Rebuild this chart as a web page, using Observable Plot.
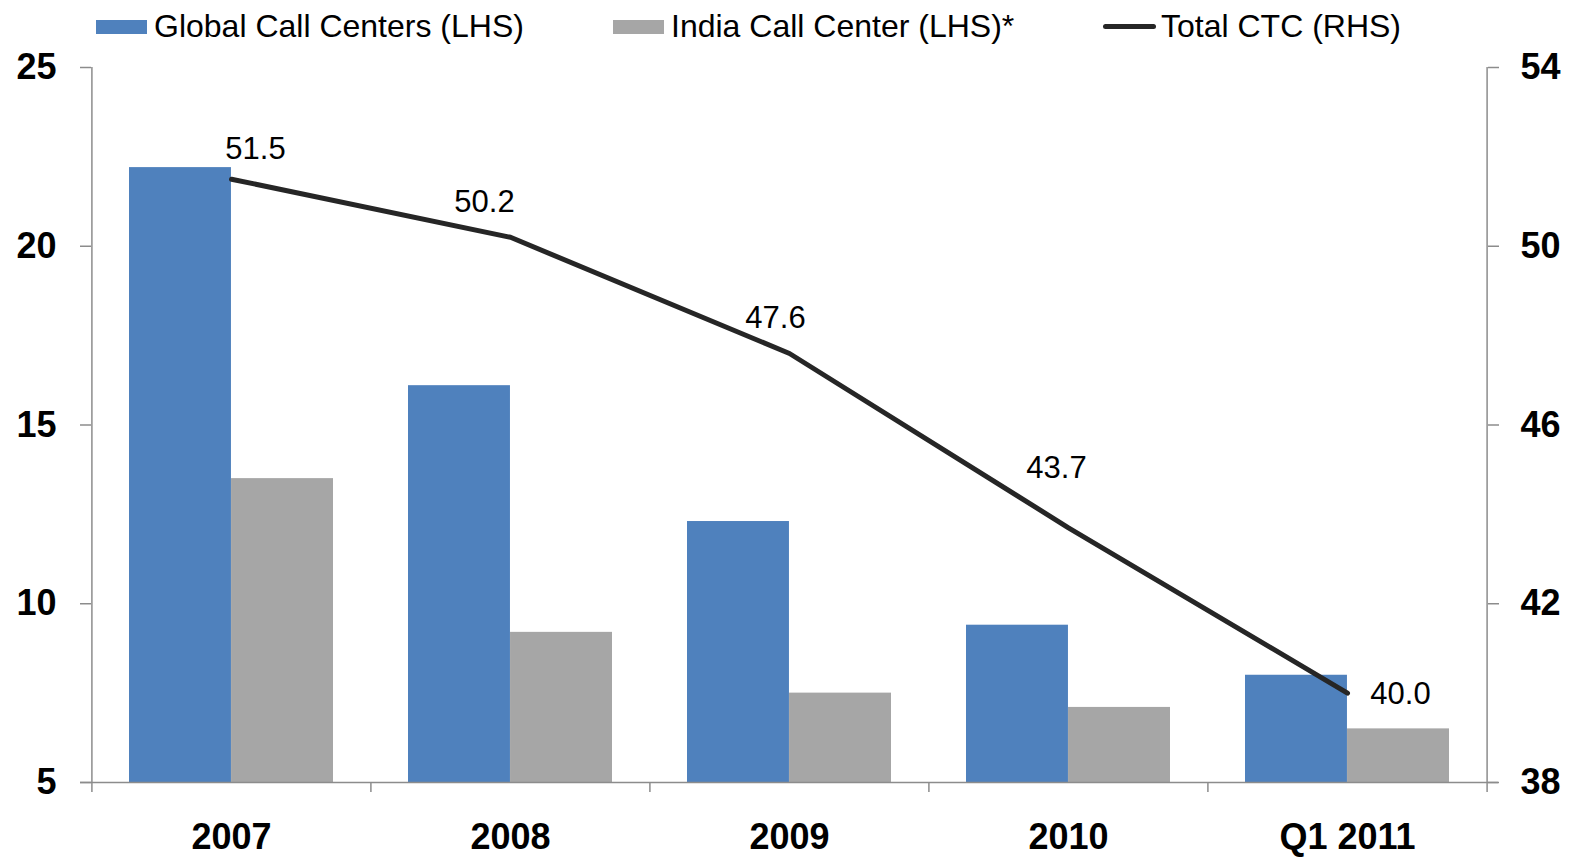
<!DOCTYPE html>
<html>
<head>
<meta charset="utf-8">
<script src="https://cdn.jsdelivr.net/npm/d3@7"></script>
<script src="https://cdn.jsdelivr.net/npm/@observablehq/plot@0.6"></script>
<style>
  html, body { margin: 0; padding: 0; overflow: hidden; background: #fff; font-family: "Liberation Sans", Arial, sans-serif; }
  #legend { position: relative; width: 1576px; height: 50px; }
  #chart svg { display: block; max-width: none !important; }
  .item { position: absolute; top: 8px; display: flex; align-items: center; font-size: 32px; color: #000; white-space: nowrap; }
  .sw { width: 51px; height: 14px; margin-right: 7px; }
  .ln { width: 53px; height: 5px; border-radius: 3px; margin-right: 5px; }
</style>
</head>
<body>
<div id="legend"></div>
<div id="chart"></div>
<script>
// ---- data ----
const categories = ["2007", "2008", "2009", "2010", "Q1 2011"];
const globalCallCenters = [22.2, 16.1, 12.3, 9.4, 8.0];   // LHS
const indiaCallCenter = [13.5, 9.2, 7.5, 7.1, 6.5];       // LHS
const totalCTC = [51.5, 50.2, 47.6, 43.7, 40.0];          // RHS
const leftTicks = [5, 10, 15, 20, 25];
const rightTicks = [38, 42, 46, 50, 54];
const seriesNames = ["Global Call Centers (LHS)", "India Call Center (LHS)*", "Total CTC (RHS)"];

// ---- styles ----
const colors = ["#4F81BD", "#A6A6A6", "#262626"];
const labelOffsets = [[24, -30], [-26, -35], [-14, -35], [-12, -60], [53, 1]];
const W = 1576, H = 809, mT = 17, mB = 77, mL = 91, mR = 89;
const padInner = 0.269, padOuter = padInner / 2;
const step = (W - mL - mR) / categories.length;
const halfBar = step * (1 - padInner) / 2;
const plotH = H - mT - mB;
const font = '"Liberation Sans", Arial, sans-serif';

// map RHS values onto LHS scale
const lMin = 5, lMax = 25, rMin = 38, rMax = 54;
const toLeft = v => lMin + (v - rMin) * (lMax - lMin) / (rMax - rMin);
const toRight = v => rMin + (v - lMin) * (rMax - rMin) / (lMax - lMin);

const rows = categories.map((c, i) => ({cat: c, g: globalCallCenters[i], in: indiaCallCenter[i], ctc: totalCTC[i], ctcL: toLeft(totalCTC[i])}));

// ---- legend ----
const legend = document.getElementById("legend");
const legendX = [96, 613, 1103];
seriesNames.forEach((name, i) => {
  const it = document.createElement("div");
  it.className = "item";
  it.style.left = legendX[i] + "px";
  const m = document.createElement("div");
  m.className = i < 2 ? "sw" : "ln";
  m.style.background = colors[i];
  it.appendChild(m);
  const t = document.createElement("span");
  t.textContent = name;
  it.appendChild(t);
  legend.appendChild(it);
});

const axisColor = "#8C8C8C";
const marks = [
  Plot.barY(rows, {x: "cat", y1: lMin, y2: "g", fill: colors[0], insetRight: halfBar, insetLeft: 0}),
  Plot.barY(rows, {x: "cat", y1: lMin, y2: "in", fill: colors[1], insetLeft: halfBar, insetRight: 0}),
  // axis lines
  Plot.ruleY([lMin], {stroke: axisColor, strokeWidth: 1.5, insetLeft: -11, insetRight: -11}),
  Plot.ruleX([categories[0]], {x: d => d, stroke: axisColor, strokeWidth: 1.5, dx: -step / 2, insetBottom: -10}),
  Plot.ruleX([categories[categories.length - 1]], {x: d => d, stroke: axisColor, strokeWidth: 1.5, dx: step / 2, insetBottom: -10}),
  Plot.ruleX(categories.slice(1), {x: d => d, stroke: axisColor, strokeWidth: 1.5, dx: -step / 2, insetTop: plotH, insetBottom: -10}),
  // y axes
  Plot.axisY(leftTicks, {anchor: "left", tickSize: 11, tickPadding: 24, stroke: axisColor, strokeWidth: 1.5, fontSize: 36, fontWeight: "bold", fill: "#000", label: null}),
  Plot.axisY(rightTicks.map(toLeft), {anchor: "right", tickSize: 11, tickPadding: 22, stroke: axisColor, strokeWidth: 1.5, fontSize: 36, fontWeight: "bold", fill: "#000", tickFormat: v => String(Math.round(toRight(v))), label: null}),
  Plot.axisX(categories, {anchor: "bottom", tickSize: 0, tickPadding: 41, fontSize: 36, fontWeight: "bold", fill: "#000", label: null}),
  // line
  Plot.line(rows, {x: "cat", y: "ctcL", stroke: colors[2], strokeWidth: 5, strokeLinecap: "round", strokeLinejoin: "round"}),
  ...rows.map((r, i) => Plot.text([r], {x: "cat", y: "ctcL", text: d => d.ctc.toFixed(1), dx: labelOffsets[i][0], dy: labelOffsets[i][1], fontSize: 31, fill: "#000"}))
];

const chart = Plot.plot({
  width: W, height: H,
  marginTop: mT, marginBottom: mB, marginLeft: mL, marginRight: mR,
  style: {fontFamily: font, background: "#fff", overflow: "visible"},
  x: {domain: categories, paddingInner: padInner, paddingOuter: padOuter, axis: null},
  y: {domain: [lMin, lMax], axis: null},
  marks
});
document.getElementById("chart").appendChild(chart);
</script>
</body>
</html>
